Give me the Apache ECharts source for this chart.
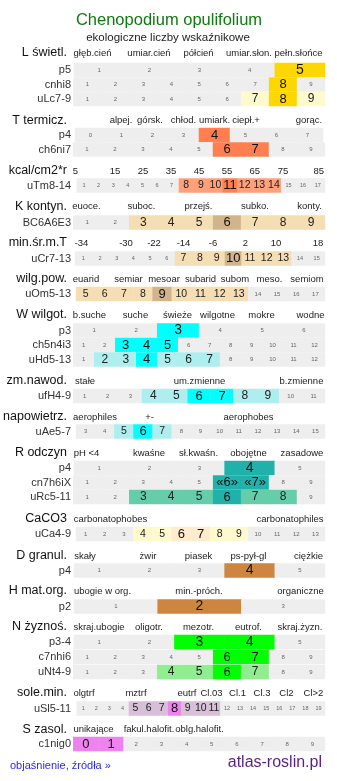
<!DOCTYPE html>
<html><head><meta charset="utf-8">
<script src="https://cdn.jsdelivr.net/npm/echarts@6/dist/echarts.min.js"></script>
<style>html,body{margin:0;padding:0;background:#fff}#c{width:337px;height:781px}</style>
</head><body><div id="c"></div>
<script>
// ---------- DATA ----------
const chartTitle = 'Chenopodium opulifolium';
const chartSubtitle = 'ekologiczne liczby wskaźnikowe';
const footerLeft = 'objaśnienie, źródła »';
const footerRight = 'atlas-roslin.pl';

const sectionNames = ['L świetl.','T termicz.','kcal/cm2*r','K kontyn.','min.śr.m.T','wilg.pow.','W wilgot.','zm.nawod.','napowietrz.','R odczyn','CaCO3','D granul.','H mat.org.','N żyznoś.','sole.min.','S zasol.'];
const sectionTicks = [
  ['głęb.cień','umiar.cień','półcień','umiar.słon.','pełn.słońce'],
  ['alpej.','górsk.','chłod.','umiark.','ciepł.+','gorąc.'],
  ['5','15','25','35','45','55','65','75','85'],
  ['euoce.','suboc.','przejś.','subko.','konty.'],
  ['-34','-30','-22','-14','-6','2','10','18'],
  ['euarid','semiar','mesoar','subarid','subom','meso.','semiom'],
  ['b.suche','suche','świeże','wilgotne','mokre','wodne'],
  ['stałe','um.zmienne','b.zmienne'],
  ['aerophiles','+-','aerophobes'],
  ['pH <4','kwaśne','sł.kwaśn.','obojętne','zasadowe'],
  ['carbonatophobes','carbonatophiles'],
  ['skały','żwir','piasek','ps-pył-gl','ciężkie'],
  ['ubogie w org.','min.-próch.','organiczne'],
  ['skraj.ubogie','oligotr.','mezotr.','eutrof.','skraj.żyzn.'],
  ['olgtrf','mztrf','eutrf','Cl.03','Cl.1','Cl.3','Cl2','Cl>2'],
  ['unikające','fakul.halofit.','oblg.halofit.']
];
const rowNames = ['p5','cnhi8','uLc7-9','p4','ch6ni7','uTm8-14','BC6A6E3','uCr7-13','uOm5-13','p3','ch5n4i3','uHd5-13','ufH4-9','uAe5-7','p4','cn7h6iX','uRc5-11','uCa4-9','p4','p2','p3-4','c7nhi6','uNt4-9','uSl5-11','c1nig0'];
const rowSection = [0,0,0,1,1,2,3,4,5,6,6,6,7,8,9,9,9,10,11,12,13,13,13,14,15];
const rowCells = [
  ['1','2','3','4','5'],
  ['1','2','3','4','5','6','7','8','9'],
  ['1','2','3','4','5','6','7','8','9'],
  ['0','1','2','3','4','5','6','7'],
  ['1','2','3','4','5','6','7','8','9'],
  ['1','2','3','4','5','6','7','8','9','10','11','12','13','14','15','16','17'],
  ['1','2','3','4','5','6','7','8','9'],
  ['1','2','3','4','5','6','7','8','9','10','11','12','13','14','15'],
  ['5','6','7','8','9','10','11','12','13','14','15','16','17'],
  ['1','2','3','4','5','6'],
  ['1','2','3','4','5','6','7','8','9','10','11','12'],
  ['1','2','3','4','5','6','7','8','9','10','11','12'],
  ['1','2','3','4','5','6','7','8','9','10','11'],
  ['3','4','5','6','7','8','9','10','11','12','13','14','15'],
  ['1','2','3','4','5'],
  ['1','2','3','4','5','«6»','«7»','8','9'],
  ['1','2','3','4','5','6','7','8','9'],
  ['1','2','3','4','5','6','7','8','9','10','11','12','13'],
  ['1','2','3','4','5'],
  ['1','2','3'],
  ['1','2','3','4','5'],
  ['1','2','3','4','5','6','7','8','9'],
  ['1','2','3','4','5','6','7','8','9'],
  ['1','2','3','4','5','6','7','8','9','10','11','12','13','14','15','16','17','18','19'],
  ['0','1','2','3','4','5','6','7','8','9']
];
// 0 = not indicated, 1 = range, 2 = main value
const rowLevels = [
  [0,0,0,0,2],
  [0,0,0,0,0,0,0,2,0],
  [0,0,0,0,0,0,1,2,1],
  [0,0,0,0,2,0,0,0],
  [0,0,0,0,0,2,2,0,0],
  [0,0,0,0,0,0,0,1,1,1,2,1,1,1,0,0,0],
  [0,0,1,1,1,2,1,1,1],
  [0,0,0,0,0,0,1,1,1,2,1,1,1,0,0],
  [1,1,1,1,2,1,1,1,1,0,0,0,0],
  [0,0,2,0,0,0],
  [0,0,2,2,2,0,0,0,0,0,0,0],
  [0,1,1,2,1,1,1,0,0,0,0,0],
  [0,0,0,1,1,2,2,1,1,0,0],
  [0,0,1,2,1,0,0,0,0,0,0,0,0],
  [0,0,0,2,0],
  [0,0,0,0,0,2,2,0,0],
  [0,0,1,1,1,2,1,1,0],
  [0,0,0,1,1,2,2,1,1,0,0,0,0],
  [0,0,0,2,0],
  [0,2,0],
  [0,0,2,2,0],
  [0,0,0,0,0,2,2,0,0],
  [0,0,0,1,1,2,1,0,0],
  [0,0,0,0,1,1,1,2,1,1,1,0,0,0,0,0,0,0,0],
  [2,2,0,0,0,0,0,0,0,0]
];

// ---------- LAYOUT & STYLE ----------
const FONT = '"Liberation Sans", Arial, sans-serif';
const GREY = '#eeeeee';
const sectionColors = [
  ['#fffacd','#ffd700'],
  ['#ffa07a','#ff7f50'],
  ['#ffa07a','#ff7f50'],
  ['#f5deb3','#d2b48c'],
  ['#f5deb3','#d2b48c'],
  ['#f5deb3','#d2b48c'],
  ['#afeeee','#00ffff'],
  ['#afeeee','#00ffff'],
  ['#afeeee','#00ffff'],
  ['#66cdaa','#20b2aa'],
  ['#fffacd','#ffebcd'],
  ['#cd853f','#cd853f'],
  ['#cd853f','#cd853f'],
  ['#90ee90','#00ff00'],
  ['#d8bfd8','#ee82ee'],
  ['#d8bfd8','#ee82ee']
];
const sectionY = [53,120.5,171,206.5,243,279,315,381,417,453,519,556,591,627,693,729.5];
const tickX = [
  [92.5,149,198.5,249,298.5],
  [121,150,183.5,214.5,246,309],
  [75.5,115,143,171,199,227,254.7,283,318.7],
  [86.5,141.5,198.5,255,309.5],
  [81.5,126,154,183.5,213,245.5,276,318],
  [86,128.5,164,200.5,235,269.5,307],
  [89.5,135.5,177.5,217.5,261.5,310.5],
  [85,199.5,301.5],
  [95,149.5,248.5],
  [86.5,149,198.5,248.5,302],
  [110.5,290],
  [85,148,198.5,248.5,308.5],
  [102.5,199,300.5],
  [99,149,198.5,248.5,300],
  [84,136,187,211.5,237.5,262,286.5,313.5],
  [93.5,149,199.5]
];
const rowTop = [63,77.5,92,128,142.5,178.5,215.5,251.5,287,323.5,338,352.5,389,424.5,461,475.5,490,527,563.5,599.5,635,650,665,701.5,737];
const rowLeft = [74,73.5,73.5,75,73,76.7,73.3,75,76,73.3,73.3,73.3,73.3,76,74,73.3,73.3,76,74,74,74,73.3,73.3,76.7,73.3];
const rowRight = [325,325,325,323,325,325,325,325,325,325,325,325,325,325,325,325,325,325,325,325,325,325,325,325,325];
const ROW_H = 14;
const LABEL_RIGHT = 71;
const W = 337;

const grid = [], xAxis = [], yAxis = [], series = [];
rowNames.forEach((name, r) => {
  grid.push({left: rowLeft[r], right: W - rowRight[r], top: rowTop[r], height: ROW_H, containLabel: false});
  xAxis.push({type: 'category', gridIndex: r, data: rowCells[r], show: false, boundaryGap: true});
  yAxis.push({type: 'category', gridIndex: r, data: [name],
    axisLine: {show: false}, axisTick: {show: false}, splitLine: {show: false},
    axisLabel: {fontSize: 11, color: '#333', fontFamily: FONT, margin: rowLeft[r] - LABEL_RIGHT}});
  const n = rowCells[r].length;
  const cols = sectionColors[rowSection[r]];
  const data = rowLevels[r].map((lv, i) => {
    let fs, col;
    if (lv === 0) { fs = n > 14 ? 5.5 : 6; col = '#666'; }
    else if (lv === 2) { fs = n <= 6 ? 14 : 13; col = '#111'; }
    else { fs = n > 12 ? 10.5 : 12; col = '#222'; }
    return {
      value: [i, 0, lv],
      itemStyle: {color: lv === 0 ? GREY : cols[lv - 1]},
      label: {fontSize: fs, color: col}
    };
  });
  series.push({
    type: 'heatmap', xAxisIndex: r, yAxisIndex: r, data: data,
    itemStyle: {borderWidth: 0},
    emphasis: {disabled: true},
    silent: true,
    label: {show: true, fontFamily: FONT, formatter: p => rowCells[r][p.value[0]]}
  });
});

const graphic = [];
graphic.push({type: 'text', x: 169, y: 20, style: {text: chartTitle, fontSize: 16.5, fontFamily: FONT, fill: '#0f7a0f', textAlign: 'center', textVerticalAlign: 'middle'}});
graphic.push({type: 'text', x: 168, y: 38, style: {text: chartSubtitle, fontSize: 11.5, fontFamily: FONT, fill: '#222', textAlign: 'center', textVerticalAlign: 'middle'}});
sectionNames.forEach((s, k) => {
  graphic.push({type: 'text', x: 67, y: sectionY[k], style: {text: s, fontSize: 12.5, fontFamily: FONT, fill: '#111', textAlign: 'right', textVerticalAlign: 'middle'}});
  sectionTicks[k].forEach((t, j) => {
    graphic.push({type: 'text', x: tickX[k][j], y: sectionY[k], style: {text: t, fontSize: 9.5, fontFamily: FONT, fill: '#222', textAlign: 'center', textVerticalAlign: 'middle'}});
  });
});
graphic.push({type: 'text', x: 10, y: 766, style: {text: footerLeft, fontSize: 11, fontFamily: FONT, fill: '#2a2aee', textAlign: 'left', textVerticalAlign: 'middle'}});
graphic.push({type: 'text', x: 322, y: 763, style: {text: footerRight, fontSize: 16, fontFamily: FONT, fill: '#5a1f87', textAlign: 'right', textVerticalAlign: 'middle'}});

const chart = echarts.init(document.getElementById('c'), null, {renderer: 'canvas'});
chart.setOption({
  animation: false,
  backgroundColor: '#fff',
  grid, xAxis, yAxis, series, graphic
});
</script></body></html>
